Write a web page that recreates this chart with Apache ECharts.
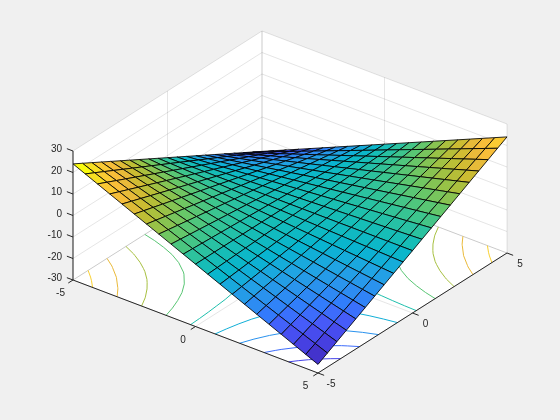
<!DOCTYPE html>
<html>
<head>
<meta charset="utf-8">
<style>html,body{margin:0;padding:0;background:#f0f0f0}#c{width:560px;height:420px}</style>
<script src="https://cdn.jsdelivr.net/npm/echarts@6/dist/echarts.min.js"></script>
</head>
<body>
<div id="c"></div>
<script>
const gridX = [-5,-4.5,-4,-3.5,-3,-2.5,-2,-1.5,-1,-0.5,0,0.5,1,1.5,2,2.5,3,3.5,4,4.5,5];
const gridY = [-5,-4.5,-4,-3.5,-3,-2.5,-2,-1.5,-1,-0.5,0,0.5,1,1.5,2,2.5,3,3.5,4,4.5,5];
// surface heights: one row per gridY value, one column per gridX value
const surfaceZ = [
[24,21.5,19,16.5,14,11.5,9,6.5,4,1.5,-1,-3.5,-6,-8.5,-11,-13.5,-16,-18.5,-21,-23.5,-26],
[21.5,19.25,17,14.75,12.5,10.25,8,5.75,3.5,1.25,-1,-3.25,-5.5,-7.75,-10,-12.25,-14.5,-16.75,-19,-21.25,-23.5],
[19,17,15,13,11,9,7,5,3,1,-1,-3,-5,-7,-9,-11,-13,-15,-17,-19,-21],
[16.5,14.75,13,11.25,9.5,7.75,6,4.25,2.5,0.75,-1,-2.75,-4.5,-6.25,-8,-9.75,-11.5,-13.25,-15,-16.75,-18.5],
[14,12.5,11,9.5,8,6.5,5,3.5,2,0.5,-1,-2.5,-4,-5.5,-7,-8.5,-10,-11.5,-13,-14.5,-16],
[11.5,10.25,9,7.75,6.5,5.25,4,2.75,1.5,0.25,-1,-2.25,-3.5,-4.75,-6,-7.25,-8.5,-9.75,-11,-12.25,-13.5],
[9,8,7,6,5,4,3,2,1,0,-1,-2,-3,-4,-5,-6,-7,-8,-9,-10,-11],
[6.5,5.75,5,4.25,3.5,2.75,2,1.25,0.5,-0.25,-1,-1.75,-2.5,-3.25,-4,-4.75,-5.5,-6.25,-7,-7.75,-8.5],
[4,3.5,3,2.5,2,1.5,1,0.5,0,-0.5,-1,-1.5,-2,-2.5,-3,-3.5,-4,-4.5,-5,-5.5,-6],
[1.5,1.25,1,0.75,0.5,0.25,0,-0.25,-0.5,-0.75,-1,-1.25,-1.5,-1.75,-2,-2.25,-2.5,-2.75,-3,-3.25,-3.5],
[-1,-1,-1,-1,-1,-1,-1,-1,-1,-1,-1,-1,-1,-1,-1,-1,-1,-1,-1,-1,-1],
[-3.5,-3.25,-3,-2.75,-2.5,-2.25,-2,-1.75,-1.5,-1.25,-1,-0.75,-0.5,-0.25,0,0.25,0.5,0.75,1,1.25,1.5],
[-6,-5.5,-5,-4.5,-4,-3.5,-3,-2.5,-2,-1.5,-1,-0.5,0,0.5,1,1.5,2,2.5,3,3.5,4],
[-8.5,-7.75,-7,-6.25,-5.5,-4.75,-4,-3.25,-2.5,-1.75,-1,-0.25,0.5,1.25,2,2.75,3.5,4.25,5,5.75,6.5],
[-11,-10,-9,-8,-7,-6,-5,-4,-3,-2,-1,0,1,2,3,4,5,6,7,8,9],
[-13.5,-12.25,-11,-9.75,-8.5,-7.25,-6,-4.75,-3.5,-2.25,-1,0.25,1.5,2.75,4,5.25,6.5,7.75,9,10.25,11.5],
[-16,-14.5,-13,-11.5,-10,-8.5,-7,-5.5,-4,-2.5,-1,0.5,2,3.5,5,6.5,8,9.5,11,12.5,14],
[-18.5,-16.75,-15,-13.25,-11.5,-9.75,-8,-6.25,-4.5,-2.75,-1,0.75,2.5,4.25,6,7.75,9.5,11.25,13,14.75,16.5],
[-21,-19,-17,-15,-13,-11,-9,-7,-5,-3,-1,1,3,5,7,9,11,13,15,17,19],
[-23.5,-21.25,-19,-16.75,-14.5,-12.25,-10,-7.75,-5.5,-3.25,-1,1.25,3.5,5.75,8,10.25,12.5,14.75,17,19.25,21.5],
[-26,-23.5,-21,-18.5,-16,-13.5,-11,-8.5,-6,-3.5,-1,1.5,4,6.5,9,11.5,14,16.5,19,21.5,24]
];
// contour levels and their paths as [|x|,|y|] pairs
const contourLevels = [20,15,10,5,0,-5,-10,-15,-20];
const contourPaths = [
[[4.2,5],[4.5,4.67],[4.67,4.5],[5,4.2]],
[[3.2,5],[3.5,4.57],[3.56,4.5],[4,4],[4.5,3.56],[4.57,3.5],[5,3.2]],
[[2.2,5],[2.44,4.5],[2.5,4.4],[2.75,4],[3,3.67],[3.14,3.5],[3.5,3.14],[3.67,3],[4,2.75],[4.4,2.5],[4.5,2.44],[5,2.2]],
[[1.2,5],[1.33,4.5],[1.5,4],[1.71,3.5],[2,3],[2.4,2.5],[2.5,2.4],[3,2],[3.5,1.71],[4,1.5],[4.5,1.33],[5,1.2]],
[[0.2,5],[0.22,4.5],[0.25,4],[0.29,3.5],[0.33,3],[0.4,2.5],[0.5,2],[0.67,1.5],[1,1],[1.5,0.67],[2,0.5],[2.5,0.4],[3,0.33],[3.5,0.29],[4,0.25],[4.5,0.22],[5,0.2]],
[[0.8,5],[0.89,4.5],[1,4],[1.14,3.5],[1.33,3],[1.5,2.67],[1.6,2.5],[2,2],[2.5,1.6],[2.67,1.5],[3,1.33],[3.5,1.14],[4,1],[4.5,0.89],[5,0.8]],
[[1.8,5],[2,4.5],[2.25,4],[2.5,3.6],[2.57,3.5],[3,3],[3.5,2.57],[3.6,2.5],[4,2.25],[4.5,2],[5,1.8]],
[[2.8,5],[3,4.67],[3.11,4.5],[3.5,4],[4,3.5],[4.5,3.11],[4.67,3],[5,2.8]],
[[3.8,5],[4,4.75],[4.22,4.5],[4.5,4.22],[4.75,4],[5,3.8]]
];
const xTicks = [-5,0,5];
const yTicks = [-5,0,5];
const zTicks = [-30,-20,-10,0,10,20,30];
const xTickLabels = ['-5','0','5'];
const yTickLabels = ['-5','0','5'];
const zTickLabels = ['-30','-20','-10','0','10','20','30'];
const colorLimits = [-26,24];
const parula = [
[0,.2422,.1504,.6603],[.0635,.2706,.2147,.8364],[.127,.2803,.2782,.9221],[.19,.2760,.3667,.9829],
[.254,.1963,.4847,.9892],[.317,.1687,.5703,.9359],[.381,.1248,.6459,.8883],[.444,.0297,.7082,.8163],
[.508,.0964,.7463,.7025],[.571,.2161,.7705,.5745],[.635,.3909,.7802,.4186],[.698,.5900,.7600,.2800],
[.762,.7800,.7400,.1900],[.825,.9300,.7300,.2300],[.873,.9883,.7500,.2200],[.92,.9800,.8200,.1900],
[.968,.9600,.9100,.1000],[1,.9763,.9831,.0538]
];
const FIG = '#f0f0f0', GRIDC = 'rgba(38,38,38,0.15)', AXC = '#262626';

function parulaAt(v){
  const t = Math.min(1, Math.max(0, (v-colorLimits[0])/(colorLimits[1]-colorLimits[0])));
  let k = 0;
  while (k < parula.length-2 && parula[k+1][0] < t) k++;
  const a = parula[k], b = parula[k+1], f = (t-a[0])/(b[0]-a[0]);
  const ch = n => Math.round(255*(a[n]+(b[n]-a[n])*f));
  return 'rgb('+ch(1)+','+ch(2)+','+ch(3)+')';
}
// orthographic view: data (x,y,z) -> plane coordinates shown by the hidden axes
function view(x,y,z){ return [290+24.5*x+18.9*y, 202+9.3*x-12*y-2.15*z]; }

const zMin = zTicks[0], zMax = zTicks[zTicks.length-1];
const xMin = xTicks[0], xMax = xTicks[xTicks.length-1];
const yMin = yTicks[0], yMax = yTicks[yTicks.length-1];

function poly(api, pts, style, closed){
  return {type: closed?'polygon':'polyline', shape:{points:pts.map(p=>api.coord(view(p[0],p[1],p[2])))}, style:style, silent:true};
}
function customSeries(data, item, z){
  return {type:'custom', coordinateSystem:'cartesian2d', clip:false, silent:true, z:z, animation:false,
    data:data, encode:{x:0,y:1}, renderItem:(p,api)=>item(data[p.dataIndex],api)};
}

// white panes
const panes = [
 [[xMin,yMin,zMin],[xMax,yMin,zMin],[xMax,yMax,zMin],[xMin,yMax,zMin]],
 [[xMin,yMin,zMin],[xMin,yMax,zMin],[xMin,yMax,zMax],[xMin,yMin,zMax]],
 [[xMin,yMax,zMin],[xMax,yMax,zMin],[xMax,yMax,zMax],[xMin,yMax,zMax]]
];
// grid lines
const gridLines = [];
zTicks.forEach(z=>{ gridLines.push([[xMin,yMin,z],[xMin,yMax,z]]); gridLines.push([[xMin,yMax,z],[xMax,yMax,z]]); });
yTicks.forEach(y=>{ gridLines.push([[xMin,y,zMin],[xMin,y,zMax]]); gridLines.push([[xMin,y,zMin],[xMax,y,zMin]]); });
xTicks.forEach(x=>{ gridLines.push([[x,yMax,zMin],[x,yMax,zMax]]); gridLines.push([[x,yMin,zMin],[x,yMax,zMin]]); });
// contour branches: each level appears in the two quadrants where x*y has its sign
const contours = [];
contourLevels.forEach((lev,k)=>{
  const pos = lev+1 > 0;
  const signs = pos ? [[-1,-1],[1,1]] : [[1,-1],[-1,1]];
  signs.forEach(s=>contours.push({lev:lev, pts:contourPaths[k].map(q=>[s[0]*q[0],s[1]*q[1],zMin])}));
});
// facets, far corner first
const facets = [];
for (let j=gridY.length-2;j>=0;j--) for (let i=0;i<gridX.length-1;i++) facets.push([i,j]);
// axis lines + ticks
const axisLines = [
 [[xMin,yMin,zMin],[xMin,yMin,zMax]],
 [[xMin,yMin,zMin],[xMax,yMin,zMin]],
 [[xMax,yMin,zMin],[xMax,yMax,zMin]]
];
const TL = 0.25;
zTicks.forEach(z=>axisLines.push([[xMin,yMin,z],[xMin-TL,yMin,z]]));
xTicks.forEach(x=>axisLines.push([[x,yMin,zMin],[x,yMin-TL,zMin]]));
yTicks.forEach(y=>axisLines.push([[xMax,y,zMin],[xMax+TL,y,zMin]]));
// tick labels
const labels = [];
zTicks.forEach((z,i)=>labels.push({t:zTickLabels[i],p:[xMin,yMin,z],dx:-11,dy:-1.5,a:'right'}));
xTicks.forEach((x,i)=>labels.push({t:xTickLabels[i],p:[x,yMin,zMin],dx:-12.5,dy:13.5,a:'center'}));
yTicks.forEach((y,i)=>labels.push({t:yTickLabels[i],p:[xMax,y,zMin],dx:13,dy:11,a:'center'}));

const chart = echarts.init(document.getElementById('c'), null, {width:560,height:420});
chart.setOption({
  animation:false,
  backgroundColor:FIG,
  grid:{left:0,right:0,top:0,bottom:0},
  xAxis:{type:'value',min:0,max:560,show:false},
  yAxis:{type:'value',min:0,max:420,inverse:true,show:false},
  series:[
    customSeries(panes.map(p=>Object.assign([0,0],{p:p})), (d,api)=>poly(api,d.p,{fill:'#fff',stroke:'none'},true), 1),
    customSeries(gridLines.map(p=>Object.assign([0,0],{p:p})), (d,api)=>poly(api,d.p,{fill:'none',stroke:GRIDC,lineWidth:0.8}), 2),
    customSeries(contours.map(c=>Object.assign([0,0],c)), (d,api)=>poly(api,d.pts,{fill:'none',stroke:parulaAt(d.lev),lineWidth:1}), 3),
    customSeries(facets, (d,api)=>{
      const i=d[0], j=d[1];
      const pts=[[i,j],[i+1,j],[i+1,j+1],[i,j+1]].map(q=>[gridX[q[0]],gridY[q[1]],surfaceZ[q[1]][q[0]]]);
      return poly(api,pts,{fill:parulaAt(surfaceZ[j][i]),stroke:'#000',lineWidth:0.85,lineJoin:'round'},true);
    }, 4),
    customSeries(axisLines.map(p=>Object.assign([0,0],{p:p})), (d,api)=>poly(api,d.p,{fill:'none',stroke:AXC,lineWidth:1}), 5),
    customSeries(labels.map(l=>Object.assign([0,0],l)), (d,api)=>{
      const c=api.coord(view(d.p[0],d.p[1],d.p[2]));
      return {type:'text',x:c[0]+d.dx,y:c[1]+d.dy,silent:true,style:{text:d.t,fill:AXC,font:'10px "Liberation Sans", Arial, sans-serif',textAlign:d.a,textVerticalAlign:'middle'}};
    }, 6)
  ]
});
</script>
</body>
</html>
